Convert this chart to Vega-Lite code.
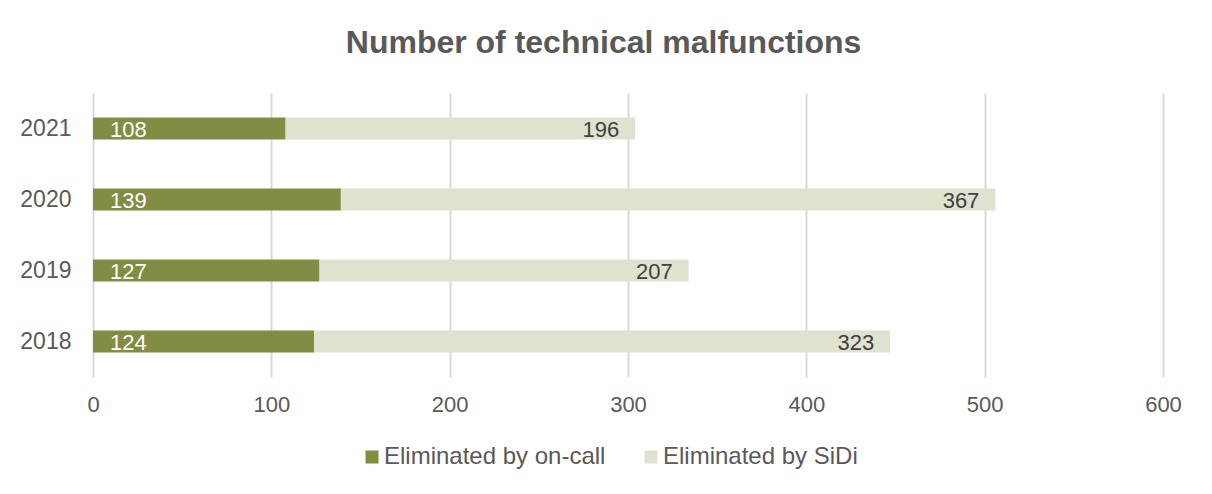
{
  "$schema": "https://vega.github.io/schema/vega-lite/v6.json",
  "width": 1070,
  "height": 284,
  "autosize": "none",
  "padding": {"left": 93, "top": 93, "right": 49, "bottom": 117},
  "background": "white",
  "config": {"view": {"stroke": null}},
  "title": {
    "text": "Number of technical malfunctions",
    "font": "Liberation Sans",
    "fontSize": 32,
    "fontWeight": "bold",
    "color": "#595959",
    "anchor": "middle",
    "frame": "bounds",
    "offset": 33,
    "dx": 3
  },
  "data": {
    "values": [
      {"year": "2021", "category": "Eliminated by on-call", "value": 108},
      {"year": "2021", "category": "Eliminated by SiDi", "value": 196},
      {"year": "2020", "category": "Eliminated by on-call", "value": 139},
      {"year": "2020", "category": "Eliminated by SiDi", "value": 367},
      {"year": "2019", "category": "Eliminated by on-call", "value": 127},
      {"year": "2019", "category": "Eliminated by SiDi", "value": 207},
      {"year": "2018", "category": "Eliminated by on-call", "value": 124},
      {"year": "2018", "category": "Eliminated by SiDi", "value": 323}
    ]
  },
  "transform": [
    {"stack": "value", "groupby": ["year"], "sort": [{"field": "category", "order": "descending"}], "as": ["x0", "x1"]}
  ],
  "encoding": {
    "y": {
      "field": "year",
      "type": "nominal",
      "sort": "descending",
      "scale": {"paddingInner": 0.69, "paddingOuter": 0.345},
      "axis": {
        "title": null,
        "domain": false,
        "ticks": false,
        "grid": false,
        "labelFont": "Liberation Sans",
        "labelFontSize": 23,
        "labelColor": "#595959",
        "labelPadding": 22
      }
    }
  },
  "layer": [
    {
      "mark": {"type": "bar", "cornerRadius": 0},
      "encoding": {
        "x": {
          "field": "x0",
          "type": "quantitative",
          "scale": {"domain": [0, 600], "nice": false},
          "axis": {
            "title": null,
            "values": [0, 100, 200, 300, 400, 500, 600],
            "domain": false,
            "ticks": false,
            "grid": true,
            "gridColor": "#d9d9d9",
            "gridWidth": 2,
            "labelFlush": false,
            "labelFont": "Liberation Sans",
            "labelFontSize": 22,
            "labelColor": "#595959",
            "labelPadding": 17
          }
        },
        "x2": {"field": "x1"},
        "color": {
          "field": "category",
          "type": "nominal",
          "scale": {
            "domain": ["Eliminated by on-call", "Eliminated by SiDi"],
            "range": ["#828c42", "#dfe2ce"]
          },
          "legend": {
            "title": null,
            "orient": "none",
            "direction": "horizontal",
            "legendX": 267,
            "legendY": 352,
            "symbolType": "square",
            "symbolSize": 169,
            "symbolStrokeWidth": 0,
            "labelFont": "Liberation Sans",
            "labelFontSize": 24,
            "labelColor": "#595959",
            "labelLimit": 0,
            "labelOffset": 0,
            "columnPadding": 33
          }
        }
      }
    },
    {
      "transform": [{"filter": "datum.category === 'Eliminated by on-call'"}],
      "mark": {"type": "text", "align": "left", "baseline": "middle", "dx": 17, "dy": 1, "font": "Liberation Sans", "fontSize": 22, "color": "white"},
      "encoding": {
        "x": {"field": "x0", "type": "quantitative"},
        "text": {"field": "value", "type": "quantitative"}
      }
    },
    {
      "transform": [{"filter": "datum.category === 'Eliminated by SiDi'"}],
      "mark": {"type": "text", "align": "right", "baseline": "middle", "dx": -16, "dy": 1, "font": "Liberation Sans", "fontSize": 22, "color": "#404040"},
      "encoding": {
        "x": {"field": "x1", "type": "quantitative"},
        "text": {"field": "value", "type": "quantitative"}
      }
    }
  ]
}
